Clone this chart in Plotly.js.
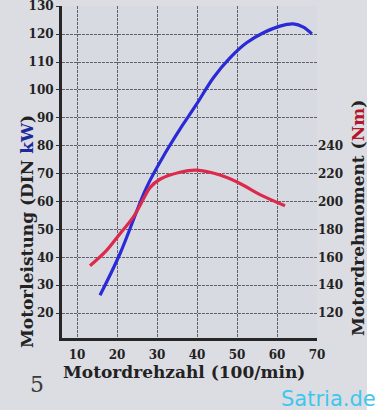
<!DOCTYPE html>
<html><head><meta charset="utf-8">
<script src="https://cdn.plot.ly/plotly-3.0.1.min.js"></script>
<style>html,body{margin:0;padding:0;background:#fff}#c{width:392px;height:410px}</style>
</head><body><div id="c"></div>
<script>
// Engine speed in 100/min
const powerRpm = [15.75, 20.75, 27.4, 32.4, 35.75, 39.9, 44.1, 48.25, 52.4, 56.6, 60.75, 64.1, 66.6, 68.7];
// Power, DIN kW
const powerKW = [26.4, 41.3, 65.1, 78.2, 86, 94.9, 104.4, 111.5, 116.9, 120.5, 122.9, 123.7, 122.5, 120.1];
const torqueRpm = [13.25, 17.4, 20.75, 24.1, 27, 28.25, 30.75, 35.75, 39.9, 45.75, 50.75, 55.75, 62];
// Torque, Nm
const torqueNm = [154, 165, 177, 189, 204, 210, 216, 221, 222.5, 219, 213, 205, 197];
const xTicks = [10, 20, 30, 40, 50, 60, 70];
const kwTicks = [20, 30, 40, 50, 60, 70, 80, 90, 100, 110, 120, 130];
const nmTicks = [120, 140, 160, 180, 200, 220, 240];

const serif = 'DejaVu Serif';
const ink = '#222222';
const tickFont = {family: serif, size: 12, color: ink, weight: 'bold'};
const yMin = 11.1, yMax = 130.1;
const gridCol = 'rgba(45,45,55,0.7)';
const M = {l: 62, r: 75, t: 6, b: 72};
const PW = 392 - M.l - M.r, PH = 410 - M.t - M.b;
const px = v => (v - M.l) / PW;
const py = v => (410 - M.b - v) / PH;

const data = [
  {x: powerRpm, y: powerKW, mode: 'lines', line: {color: '#2a2ad6', width: 3.2, shape: 'spline'}, yaxis: 'y', hoverinfo: 'skip'},
  {x: torqueRpm, y: torqueNm, mode: 'lines', line: {color: '#dd2a4c', width: 3.2, shape: 'spline'}, yaxis: 'y2', hoverinfo: 'skip'}
];

const layout = {
  width: 392, height: 410,
  margin: M,
  paper_bgcolor: '#dcdde2',
  plot_bgcolor: '#d8dae2',
  showlegend: false,
  xaxis: {
    range: [6.25, 70], tickvals: xTicks, ticktext: xTicks.map(String),
    tickfont: tickFont, showgrid: true, gridcolor: gridCol, gridwidth: 1, griddash: '3px,1px',
    showline: true, linecolor: '#262626', linewidth: 3, zeroline: false, ticks: '', ticklabelstandoff: 4
  },
  yaxis: {
    range: [yMin, yMax], tickvals: kwTicks, ticktext: kwTicks.map(String), ticklabeloverflow: 'allow',
    tickfont: tickFont, showgrid: true, gridcolor: gridCol, gridwidth: 1, griddash: '3px,1px',
    showline: true, linecolor: '#262626', linewidth: 3, zeroline: false, ticks: 'outside', ticklen: 3, tickcolor: '#333'
  },
  yaxis2: {
    overlaying: 'y', side: 'right',
    range: [2 * yMin + 80, 2 * yMax + 80], tickvals: nmTicks, ticktext: nmTicks.map(String),
    tickfont: tickFont, showgrid: false, zeroline: false, showline: false, ticks: ''
  },
  shapes: [
    {type: 'rect', xref: 'paper', yref: 'paper', x0: px(367), x1: px(400), y0: py(420), y1: py(-10), fillcolor: '#ffffff', line: {width: 0}, layer: 'below'},
    {type: 'line', xref: 'x', yref: 'y2', x0: 70.6, x1: 70.6, y0: 2 * yMin + 80, y1: 242, line: {color: '#262626', width: 3}}
  ],
  annotations: [
    {text: 'Motorleistung (DIN <span style="color:#1c2a9c">kW</span>)', textangle: -90, xref: 'paper', yref: 'paper',
     x: px(27), y: py(232), showarrow: false, xanchor: 'center', yanchor: 'middle',
     font: {family: serif, size: 17, color: ink, weight: 'bold'}},
    {text: 'Motordrehmoment (<span style="color:#b3162a">Nm</span>)', textangle: -90, xref: 'paper', yref: 'paper',
     x: px(358), y: py(218), showarrow: false, xanchor: 'center', yanchor: 'middle',
     font: {family: serif, size: 17, color: ink, weight: 'bold'}},
    {text: 'Motordrehzahl (100/min)', xref: 'paper', yref: 'paper',
     x: px(184), y: py(372), showarrow: false, xanchor: 'center', yanchor: 'middle',
     font: {family: serif, size: 17, color: ink, weight: 'bold'}},
    {text: '5', xref: 'paper', yref: 'paper',
     x: px(37), y: py(384), showarrow: false, xanchor: 'center', yanchor: 'middle',
     font: {family: serif, size: 22, color: '#3a3a3a'}},
    {text: 'Satria.de', xref: 'paper', yref: 'paper',
     x: px(328), y: py(399), showarrow: false, xanchor: 'center', yanchor: 'middle',
     font: {family: 'DejaVu Sans', size: 21, color: '#3ec6ee'}}
  ]
};

Plotly.newPlot('c', data, layout, {staticPlot: true, displayModeBar: false});
</script></body></html>
